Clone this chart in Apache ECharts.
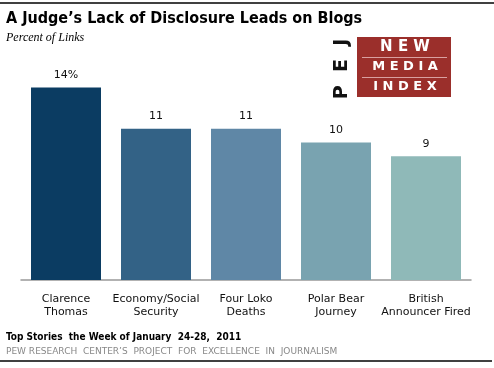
<!DOCTYPE html>
<html><head><meta charset="utf-8">
<script src="https://cdn.jsdelivr.net/npm/echarts@6/dist/echarts.min.js"></script>
<style>html,body{margin:0;padding:0;background:#fff}#c{width:494px;height:368px}</style>
</head><body><div id="c"></div>
<script>
const categories = ["Clarence\nThomas", "Economy/Social\nSecurity", "Four Loko\nDeaths", "Polar Bear\nJourney", "British\nAnnouncer Fired"];
const values = [14, 11, 11, 10, 9];
const valueLabels = ["14%", "11", "11", "10", "9"];
const barColors = ["#0b3c62", "#336286", "#5f87a6", "#79a3b0", "#8fb9b8"];

const chart = echarts.init(document.getElementById('c'), null, {renderer: 'canvas'});
chart.setOption({
  animation: false,
  grid: {left: 21, right: 23, top: 87.5, bottom: 88},
  xAxis: {
    type: 'category', data: categories,
    axisLine: {lineStyle: {color: '#999', width: 1.5}},
    axisTick: {show: false},
    axisLabel: {color: '#111', fontFamily: 'DejaVu Sans', fontSize: 11, lineHeight: 13, margin: 13, interval: 0}
  },
  yAxis: {type: 'value', min: 0, max: 14, show: false, splitLine: {show: false}},
  series: [{
    type: 'bar', barWidth: 70,
    data: values.map((v, i) => ({value: v, itemStyle: {color: barColors[i]},
      label: {show: true, position: 'top', distance: 7, formatter: valueLabels[i], color: '#111', fontFamily: 'DejaVu Sans', fontSize: 11}}))
  }],
  graphic: [
    {type: 'line', shape: {x1: 0, y1: 3, x2: 494, y2: 3}, style: {stroke: '#000', lineWidth: 1.5}},
    {type: 'line', shape: {x1: 0, y1: 361, x2: 492, y2: 361}, style: {stroke: '#000', lineWidth: 1.5}},
    {type: 'text', left: 6, top: 11, style: {text: 'A Judge’s Lack of Disclosure Leads on Blogs', font: 'bold 16px "DejaVu Sans Condensed"', fill: '#000'}},
    {type: 'text', left: 6, top: 32, style: {text: 'Percent of Links', font: 'italic 12px "Liberation Serif"', fill: '#000'}},
    {type: 'rect', shape: {x: 357, y: 37, width: 94, height: 60}, style: {fill: '#9b2f2b'}},
    {type: 'text', x: 405, y: 47, style: {text: 'N E W', font: 'bold 15px "DejaVu Sans"', fill: '#fff', align: 'center', verticalAlign: 'middle'}},
    {type: 'line', shape: {x1: 362, y1: 57.5, x2: 447, y2: 57.5}, style: {stroke: '#d9a0a0', lineWidth: 1}},
    {type: 'text', x: 405, y: 67, style: {text: 'M E D I A', font: 'bold 13px "DejaVu Sans"', fill: '#fff', align: 'center', verticalAlign: 'middle'}},
    {type: 'line', shape: {x1: 362, y1: 77.5, x2: 447, y2: 77.5}, style: {stroke: '#d9a0a0', lineWidth: 1}},
    {type: 'text', x: 405, y: 87, style: {text: 'I N D E X', font: 'bold 13px "DejaVu Sans"', fill: '#fff', align: 'center', verticalAlign: 'middle'}},
    {type: 'text', x: 342, y: 69, rotation: Math.PI / 2, style: {text: 'P  E  J', font: 'bold 19px "DejaVu Sans"', fill: '#111', align: 'center', verticalAlign: 'middle'}},
    {type: 'text', left: 6, top: 332, style: {text: 'Top Stories  the Week of January  24-28,  2011', font: 'bold 10px "DejaVu Sans Condensed"', fill: '#000'}},
    {type: 'text', left: 6, top: 347, style: {text: 'PEW RESEARCH  CENTER’S  PROJECT  FOR  EXCELLENCE  IN  JOURNALISM', font: '9px "DejaVu Sans"', fill: '#888'}}
  ]
});
</script></body></html>
